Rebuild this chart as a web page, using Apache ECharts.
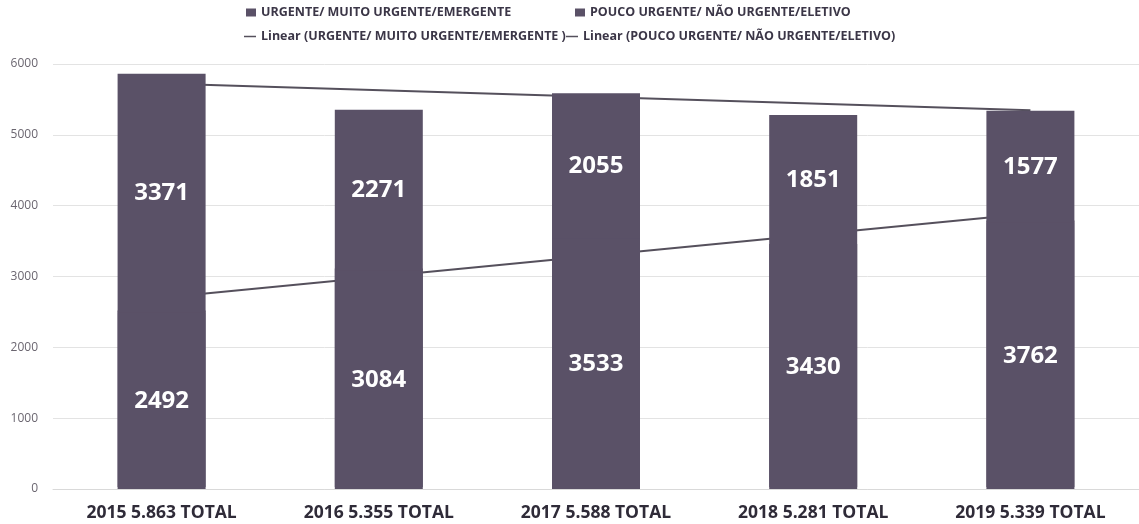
<!DOCTYPE html>
<html>
<head>
<meta charset="utf-8">
<title>Urgentes vs pouco urgentes</title>
<script src="https://cdn.jsdelivr.net/npm/echarts@6/dist/echarts.min.js"></script>
<style>
  html, body { margin: 0; padding: 0; background: #ffffff; }
  #chart { width: 1139px; height: 524px; }
</style>
</head>
<body>
<div id="chart"></div>
<script>
const categories = [
  "2015 5.863 TOTAL",
  "2016 5.355 TOTAL",
  "2017 5.588 TOTAL",
  "2018 5.281 TOTAL",
  "2019 5.339 TOTAL",
];
const urgente = [2492, 3084, 3533, 3430, 3762];
const poucoUrgente = [3371, 2271, 2055, 1851, 1577];
// trend lines (only the end points)
const trendUrgente = [2700, null, null, null, 3890];
const trendPouco = [5723, null, null, null, 5347];
const yTicks = [0, 1000, 2000, 3000, 4000, 5000, 6000];

const nameUrg = "URGENTE/ MUITO URGENTE/EMERGENTE";
const namePouco = "POUCO URGENTE/ NÃO URGENTE/ELETIVO";
const nameTrendUrg = "Linear (URGENTE/ MUITO URGENTE/EMERGENTE )";
const nameTrendPouco = "Linear (POUCO URGENTE/ NÃO URGENTE/ELETIVO)";

const barColor = "#5a5167";
const lineColor = "#55505c";
const font = "'Open Sans', sans-serif";

const legendText = {
  fontFamily: font,
  fontSize: 12.5,
  fontWeight: "bold",
  color: "#3b3647",
};

const mkLegend = (name, left, top, isLine) => ({
  left: left,
  top: top,
  data: [name],
  icon: "rect",
  itemWidth: isLine ? 12 : 10,
  itemHeight: isLine ? 1.5 : 8,
  itemGap: 0,
  padding: 0,
  textStyle: legendText,
});

const myChart = echarts.init(document.getElementById("chart"));

const barLabel = {
  show: true,
  position: "inside",
  color: "#ffffff",
  fontFamily: font,
  fontSize: 24,
  fontWeight: "bold",
};

const option = {
  animation: false,
  backgroundColor: "#ffffff",
  legend: [
    mkLegend(nameUrg, 246, 6, false),
    mkLegend(namePouco, 575, 6, false),
    mkLegend(nameTrendUrg, 244, 30, true),
    mkLegend(nameTrendPouco, 566, 30, true),
  ],
  grid: {
    left: 53,
    top: 64,
    width: 1092,
    bottom: 35,
  },
  xAxis: {
    type: "category",
    data: categories,
    axisTick: { show: false },
    axisLine: { lineStyle: { color: "#d9d9d9", width: 1 } },
    axisLabel: {
      margin: 15,
      fontFamily: font,
      fontSize: 17.5,
      fontWeight: "bold",
      color: "#2f2b38",
    },
  },
  yAxis: {
    type: "value",
    min: yTicks[0],
    max: yTicks[yTicks.length - 1],
    interval: 1000,
    axisLine: { show: false },
    axisTick: { show: false },
    axisLabel: {
      margin: 15,
      fontFamily: font,
      fontSize: 12,
      color: "#6b6670",
      formatter: (v) => String(v),
    },
    splitLine: { lineStyle: { color: "#e3e3e3", width: 1 } },
  },
  series: [
    {
      name: nameUrg,
      type: "bar",
      stack: "total",
      barWidth: 88,
      data: urgente,
      // hard shadow pushed up under the upper block so no light seam shows
      itemStyle: {
        color: barColor,
        shadowColor: barColor,
        shadowBlur: 0,
        shadowOffsetX: 0,
        shadowOffsetY: -2,
      },
      label: barLabel,
    },
    {
      name: namePouco,
      type: "bar",
      stack: "total",
      barWidth: 88,
      data: poucoUrgente,
      itemStyle: { color: barColor },
      label: barLabel,
    },
    {
      name: nameTrendUrg,
      type: "line",
      z: 1,
      data: trendUrgente,
      connectNulls: true,
      showSymbol: false,
      symbol: "none",
      itemStyle: { color: lineColor },
      lineStyle: { color: lineColor, width: 2 },
    },
    {
      name: nameTrendPouco,
      type: "line",
      z: 1,
      data: trendPouco,
      connectNulls: true,
      showSymbol: false,
      symbol: "none",
      itemStyle: { color: lineColor },
      lineStyle: { color: lineColor, width: 2 },
    },
  ],
};

myChart.setOption(option);
</script>
</body>
</html>
